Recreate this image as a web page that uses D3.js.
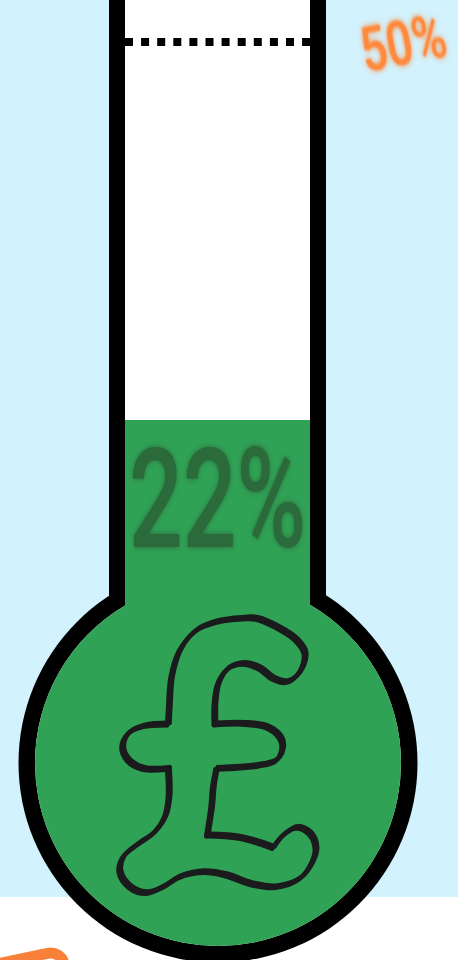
<!DOCTYPE html>
<html>
<head>
<meta charset="utf-8">
<script src="https://cdnjs.cloudflare.com/ajax/libs/d3/7.8.5/d3.min.js"></script>
<style>
html,body{margin:0;padding:0;background:#fff;overflow:hidden}
svg{display:block}
text{font-family:"Roboto",sans-serif;font-weight:500}
</style>
</head>
<body>
<div id="plot"></div>
<script>
var width = 458, height = 960;

// values
var current = [22];
var target = [50];
var domainPct = [0, 50];

// outline of the hand drawn pound sign, split at its sharp corners
var poundSegments = [
    [[345,372],[345,310],[355,250],[385,205],[430,190],[480,205],[520,235],[560,245],[600,215],[615,160],[590,120],[530,80],[470,55],[420,55],[350,65],[290,90],[240,150],[215,230],[208,320],[205,372]],
    [[205,372],[130,378],[85,400],[68,440],[85,480],[130,505],[205,505]],
    [[205,505],[207,590],[195,650],[165,695],[110,735],[70,770],[60,815],[90,860],[140,878],[190,860],[240,830],[310,815],[380,825],[450,850],[530,860],[600,835],[635,790],[648,745],[630,700],[590,682],[550,705],[520,742]],
    [[520,742],[420,712],[322,705]],
    [[322,705],[335,620],[340,560],[350,505]],
    [[350,505],[480,495],[530,480],[548,440],[540,410],[500,380],[430,370],[345,372]]
];

var svg = d3.select('#plot').append('svg')
    .attr('width', width)
    .attr('height', height);

var defs = svg.append('defs');

// soft glow behind the percent labels
function addGlow(id, spread, sharp) {
    var f = defs.append('filter').attr('id',id)
        .attr('x','-30%').attr('y','-30%').attr('width','160%').attr('height','160%');
    f.append('feGaussianBlur').attr('in','SourceGraphic').attr('stdDeviation',spread).attr('result','b');
    f.append('feGaussianBlur').attr('in','SourceGraphic').attr('stdDeviation',sharp).attr('result','s');
    var merge = f.append('feMerge');
    merge.append('feMergeNode').attr('in','b');
    merge.append('feMergeNode').attr('in','s');
}
addGlow('glow', 3, 0.6);
addGlow('glowOrange', 3.5, 0.9);

var y = d3.scaleLinear().domain(domainPct).range([717, 42]);

var tube = {x0:109, x1:326, wall:16};
var bulb = {cx:218, cy:763, r:199.5};

// background
svg.append('rect').attr('width',width).attr('height',897).attr('fill','#d2f2fe');

// orange box peeking in at the bottom
svg.append('rect')
    .attr('x',-60).attr('y',953).attr('width',120).attr('height',60).attr('rx',14)
    .attr('fill','#fff').attr('stroke','#f98038').attr('stroke-width',11)
    .attr('transform','rotate(-12 48 946)');

// thermometer body
svg.append('rect').attr('x',tube.x0).attr('y',-10)
    .attr('width',tube.x1-tube.x0).attr('height',760).attr('fill','#000');
svg.append('circle').attr('cx',bulb.cx).attr('cy',bulb.cy).attr('r',bulb.r).attr('fill','#000');

var clip = defs.append('clipPath').attr('id','inside');
clip.append('rect').attr('x',tube.x0+tube.wall).attr('y',-10)
    .attr('width',tube.x1-tube.x0-2*tube.wall).attr('height',760);
clip.append('circle').attr('cx',bulb.cx).attr('cy',bulb.cy).attr('r',bulb.r-tube.wall-0.5);

var inside = svg.append('g').attr('clip-path','url(#inside)');
inside.append('rect').attr('width',width).attr('height',height).attr('fill','#fff');
inside.selectAll('rect.level').data(current).enter().append('rect')
    .attr('class','level')
    .attr('x',0).attr('width',width)
    .attr('y',function(d){return y(d)})
    .attr('height',function(d){return height-y(d)})
    .attr('fill','#30a255');

// dotted target line
svg.selectAll('line.target').data(target).enter().append('line')
    .attr('class','target')
    .attr('x1',tube.x0+tube.wall).attr('x2',tube.x1-tube.wall)
    .attr('y1',function(d){return y(d)}).attr('y2',function(d){return y(d)})
    .attr('stroke','#000').attr('stroke-width',8)
    .attr('stroke-dasharray','8,8.1');

// squeeze a label to the wanted width, the fonts here are all too wide
function fitText(sel, x, yPos, rot, w) {
    sel.each(function(){
        var natural = this.getComputedTextLength();
        d3.select(this).attr('transform',
            'translate('+x+','+yPos+') rotate('+rot+') scale('+(w/natural)+',1)');
    });
}

svg.selectAll('text.current').data(current).enter().append('text')
    .attr('class','current')
    .attr('font-size',140)
    .attr('fill','#2a6b3b').attr('filter','url(#glow)')
    .text(function(d){return d+'%'})
    .call(fitText,129,547,0,177);

svg.selectAll('text.target').data(target).enter().append('text')
    .attr('class','target')
    .attr('font-size',61)
    .attr('font-weight',700)
    .attr('fill','#ff8a3d').attr('filter','url(#glowOrange)')
    .text(function(d){return d+'%'})
    .call(fitText,365,72,-11,86);

var px = d3.scaleLinear().domain([0,720]).range([100,340]);
var py = d3.scaleLinear().domain([0,900]).range([600,900]);
var poundLine = d3.line()
    .x(function(d){return px(d[0])})
    .y(function(d){return py(d[1])})
    .curve(d3.curveCatmullRom.alpha(0.5));

// drawn twice with a small shift, gives the uneven marker pen look
[[1.2,-1.2],[-1.2,1.2]].forEach(function(off){
    svg.append('g')
        .attr('transform','translate('+off[0]+','+off[1]+')')
        .selectAll('path').data(poundSegments).enter().append('path')
        .attr('d',poundLine)
        .attr('fill','none')
        .attr('stroke','#1b1a1c')
        .attr('stroke-width',4.5)
        .attr('stroke-linecap','round')
        .attr('stroke-linejoin','round');
});
</script>
</body>
</html>
